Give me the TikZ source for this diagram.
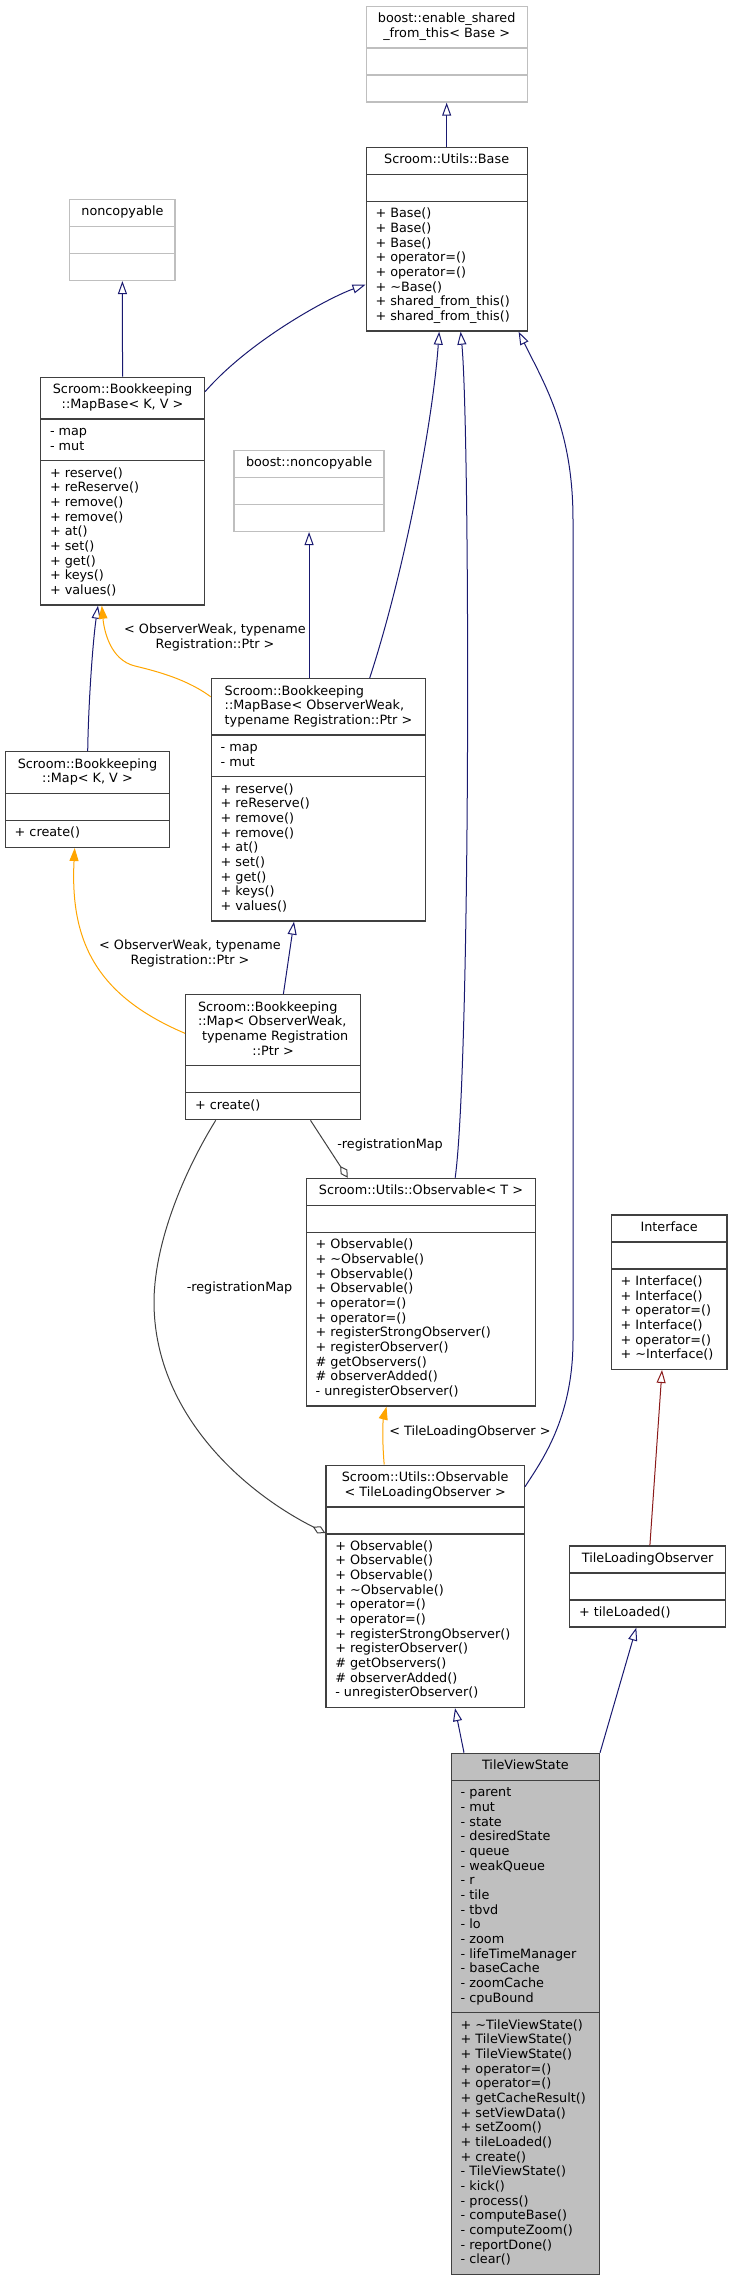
\documentclass[tikz,border=0pt]{standalone}
\usepackage{fontspec}
\setmainfont{DejaVu Sans}
\usetikzlibrary{shapes.multipart,arrows.meta,calc}

\definecolor{inhblue}{RGB}{25,25,112}
\definecolor{privred}{RGB}{139,26,26}
\definecolor{tplorange}{RGB}{255,165,0}
\definecolor{usegray}{RGB}{64,64,64}
\definecolor{boxgray}{RGB}{64,64,64}
\definecolor{undocgray}{RGB}{191,191,191}
\definecolor{curfill}{RGB}{191,191,191}

% title with left lines and a centred last line
\newcommand{\twoline}[2]{\begin{tabular}{@{}l@{}}#1\\\multicolumn{1}{@{}c@{}}{#2}\end{tabular}}

\tikzset{
  cls/.style={draw=boxgray, line width=1pt, rectangle split, rectangle split parts=3,
    rectangle split part align={center,left,left}, align=left, anchor=north west,
    inner xsep=7pt, inner ysep=4.125pt, font=\fontsize{9.6}{11}\selectfont},
  undoc/.style={cls, draw=undocgray},
  inherit/.style={draw=inhblue, line width=0.75pt, -{Triangle[open, fill=white, length=9.75pt, width=6.75pt]}},
  privinherit/.style={inherit, draw=privred},
  tmpl/.style={draw=tplorange, line width=0.75pt, -{Triangle[length=9.75pt, width=6.75pt]}},
  usage/.style={draw=usegray, line width=0.75pt, -{Diamond[open, fill=white, length=10.5pt, width=6pt]}},
  lbl/.style={font=\fontsize{9.6}{11}\selectfont, inner sep=0pt}
}

\begin{document}
\begin{tikzpicture}[x=0.75pt,y=-0.75pt]
    \useasboundingbox (0,0) rectangle (732,2275);

    % Draw the classes
    \node[undoc, minimum width=120.75pt] (enable) at (365.5,5.7)
        {\twoline{boost::enable\_shared}{\_from\_this< Base >}\nodepart{two}\strut\nodepart{three}\strut};
    \node[cls, minimum width=120.75pt] (base) at (365.5,146.7)
        {\strut Scroom::Utils::Base\nodepart{two}\strut
         \nodepart{three}\strut+ Base()\\+ Base()\\+ Base()\\+ operator=()\\+ operator=()\\+ \textasciitilde Base()\\+ shared\_from\_this()\\+ shared\_from\_this()\strut};
    \node[undoc, minimum width=79.1pt] (noncop) at (69,198.7)
        {\strut noncopyable\nodepart{two}\strut\nodepart{three}\strut};
    \node[cls, minimum width=122.8pt] (mbkv) at (40,376.7)
        {\twoline{Scroom::Bookkeeping}{::MapBase< K, V >}
         \nodepart{two}\strut- map\\- mut\strut
         \nodepart{three}\strut+ reserve()\\+ reReserve()\\+ remove()\\+ remove()\\+ at()\\+ set()\\+ get()\\+ keys()\\+ values()\strut};
    \node[undoc, minimum width=112.5pt] (bnoncop) at (233.4,449.7)
        {\strut boost::noncopyable\nodepart{two}\strut\nodepart{three}\strut};
    \node[cls, minimum width=160.7pt] (mbow) at (210.7,678)
        {\twoline{Scroom::Bookkeeping\\::MapBase< ObserverWeak,}{typename Registration::Ptr >}
         \nodepart{two}\strut- map\\- mut\strut
         \nodepart{three}\strut+ reserve()\\+ reReserve()\\+ remove()\\+ remove()\\+ at()\\+ set()\\+ get()\\+ keys()\\+ values()\strut};
    \node[cls, minimum width=123.2pt] (mapkv) at (4.7,751)
        {\twoline{Scroom::Bookkeeping}{::Map< K, V >}\nodepart{two}\strut
         \nodepart{three}\strut+ create()\strut};
    \node[cls, minimum width=131.25pt] (mapow) at (185,994)
        {\twoline{Scroom::Bookkeeping\\::Map< ObserverWeak,\\\ typename Registration}{::Ptr >}
         \nodepart{two}\strut
         \nodepart{three}\strut+ create()\strut};
    \node[cls, minimum width=172pt] (obst) at (305.7,1177.7)
        {\strut Scroom::Utils::Observable< T >\nodepart{two}\strut
         \nodepart{three}\strut+ Observable()\\+ \textasciitilde Observable()\\+ Observable()\\+ Observable()\\+ operator=()\\+ operator=()\\+ registerStrongObserver()\\+ registerObserver()\\\# getObservers()\\\# observerAdded()\\- unregisterObserver()\strut};
    \node[cls, minimum width=86.85pt] (iface) at (610.6,1214.3)
        {\strut Interface\nodepart{two}\strut
         \nodepart{three}\strut+ Interface()\\+ Interface()\\+ operator=()\\+ Interface()\\+ operator=()\\+ \textasciitilde Interface()\strut};
    \node[cls, minimum width=148.8pt] (obtlo) at (325.3,1464.5)
        {\twoline{Scroom::Utils::Observable}{< TileLoadingObserver >}\nodepart{two}\strut
         \nodepart{three}\strut+ Observable()\\+ Observable()\\+ Observable()\\+ \textasciitilde Observable()\\+ operator=()\\+ operator=()\\+ registerStrongObserver()\\+ registerObserver()\\\# getObservers()\\\# observerAdded()\\- unregisterObserver()\strut};
    \node[cls, minimum width=117pt] (tlo) at (569,1545.3)
        {\strut TileLoadingObserver\nodepart{two}\strut
         \nodepart{three}\strut+ tileLoaded()\strut};
    \node[cls, fill=curfill, minimum width=111pt] (tvs) at (450.7,1752.7)
        {\strut TileViewState
         \nodepart{two}\strut- parent\\- mut\\- state\\- desiredState\\- queue\\- weakQueue\\- r\\- tile\\- tbvd\\- lo\\- zoom\\- lifeTimeManager\\- baseCache\\- zoomCache\\- cpuBound\strut
         \nodepart{three}\strut+ \textasciitilde TileViewState()\\+ TileViewState()\\+ TileViewState()\\+ operator=()\\+ operator=()\\+ getCacheResult()\\+ setViewData()\\+ setZoom()\\+ tileLoaded()\\+ create()\\- TileViewState()\\- kick()\\- process()\\- computeBase()\\- computeZoom()\\- reportDone()\\- clear()\strut};

    % Inheritance
    \draw[inherit] (base.north) -- (enable.south);
    \draw[inherit] (mbkv.north) -- (noncop.south);
    \draw[inherit] ($(mbkv.north east)+(0,15)$) .. controls (250,340) and (330,297) .. ($(base.south west)+(0,-47)$);
    \draw[inherit] (bnoncop.south |- mbow.north) -- (bnoncop.south);
    \draw[inherit] ($(mbow.north west)+(159,0)$) .. controls (405,570) and (433,420) .. ($(base.south)+(-7.5,0)$);
    \draw[inherit] ($(obst.north west)+(149.5,0)$) .. controls (471,1060) and (470,430) .. ($(base.south)+(14,0)$);
    \draw[inherit] ($(obtlo.north east)+(0,22.2)$) .. controls (540,1463) and (573,1420) .. (573,1340)
        -- (573,520) .. controls (573,430) and (545,385) .. ($(base.south east)+(-9.2,0)$);
    \draw[inherit] ($(mapkv.north west)+(83,0)$) .. controls (88.5,700) and (93,640) .. ($(mbkv.south west)+(58,0)$);
    \draw[inherit] ($(mapow.north west)+(98.4,0)$) -- ($(mbow.south west)+(83.3,0)$);
    \draw[inherit] ($(tvs.north west)+(13.3,0)$) -- ($(obtlo.south west)+(129.7,0)$);
    \draw[inherit] (tvs.north east) -- ($(tlo.south west)+(67.3,0)$);
    \draw[privinherit] ($(tlo.north west)+(80.9,0)$) -- ($(iface.south west)+(51.4,0)$);

    % Template instances
    \draw[tmpl] ($(mbow.north west)+(0,18.7)$) .. controls (188,680) and (160,672) .. (135,666)
        .. controls (110,660) and (104,630) .. ($(mbkv.south west)+(61.8,0)$);
    \draw[tmpl] ($(mapow.north west)+(0,39.3)$) .. controls (95,995) and (70,940) .. ($(mapkv.south west)+(70,0)$);
    \draw[tmpl] ($(obtlo.north west)+(58.9,0)$) .. controls (382,1440) and (383,1420) .. ($(obst.south west)+(80.8,0)$);

    % Usage
    \draw[usage] ($(mapow.south west)+(125.5,0)$) -- ($(obst.north west)+(42.1,0)$);
    \draw[usage] ($(mapow.south west)+(30.7,0)$) .. controls (185,1170) and (155,1240) .. (154,1300)
        .. controls (153,1410) and (240,1490) .. ($(obtlo.north west)+(0,68.5)$);

    % Labels
    \node[lbl, align=center] (tplA) at (215,637.7) {< ObserverWeak, typename\\Registration::Ptr >};
    \node[lbl, align=center] (tplB) at (190,953.7) {< ObserverWeak, typename\\Registration::Ptr >};
    \node[lbl, anchor=west] (regA) at (337,1145) {-registrationMap};
    \node[lbl] (regB) at (239.5,1288.3) {-registrationMap};
    \node[lbl, anchor=west] (tplC) at (389,1431.7) {< TileLoadingObserver >};
\end{tikzpicture}
\end{document}
